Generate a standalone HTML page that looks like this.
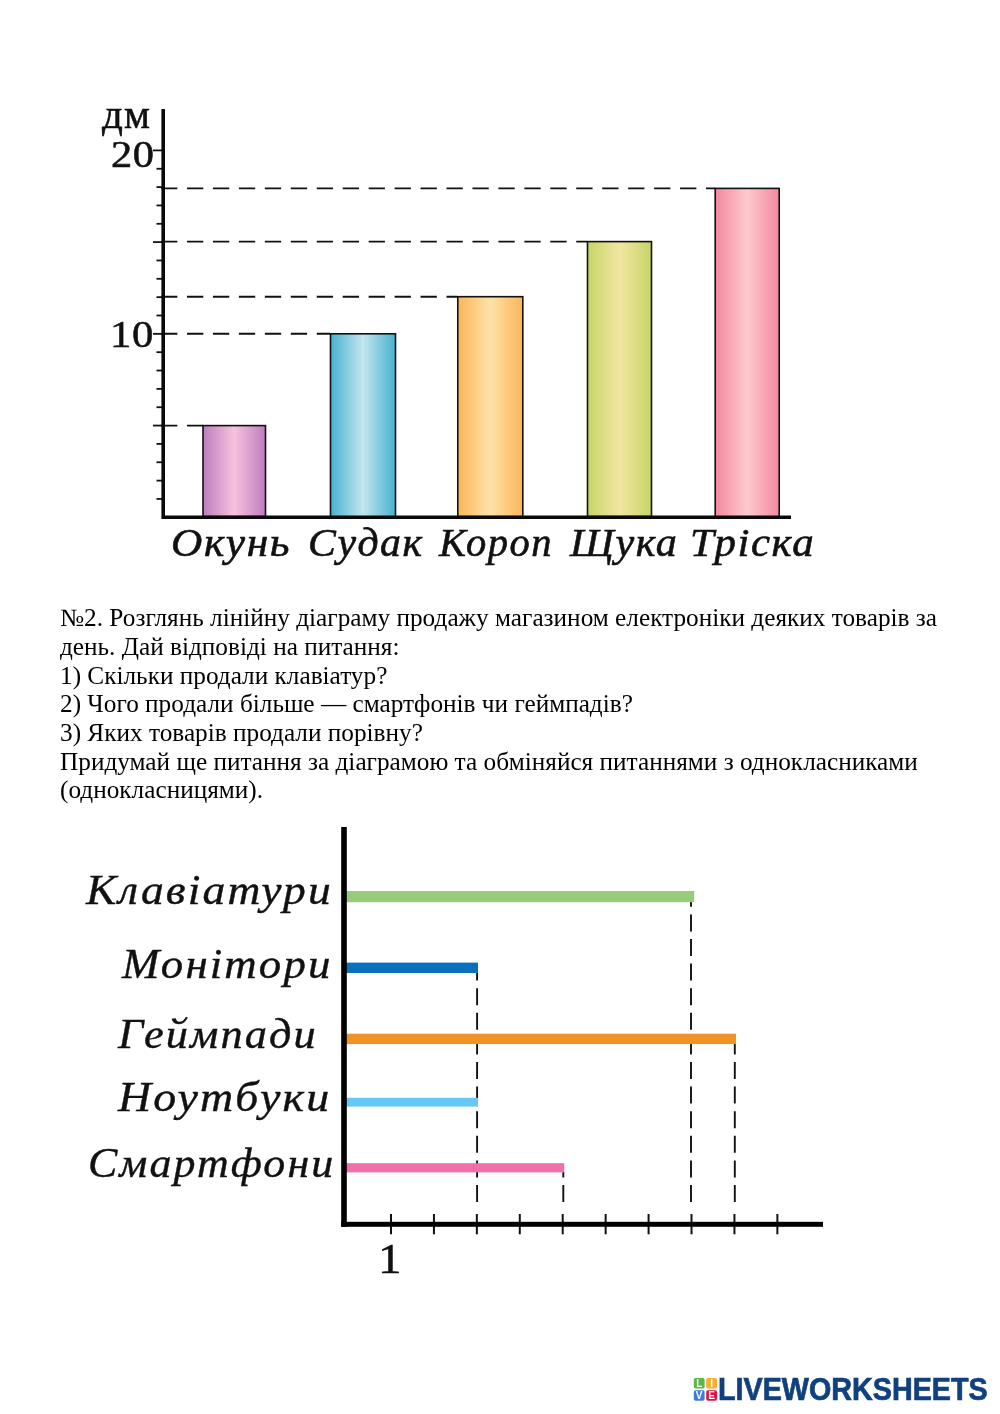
<!DOCTYPE html>
<html lang="uk">
<head>
<meta charset="utf-8">
<title>Діаграми</title>
<style>
html,body{margin:0;padding:0;background:#fff;}
body{width:1000px;height:1414px;position:relative;overflow:hidden;font-family:"Liberation Serif",serif;color:#000;}
#gfx{position:absolute;left:0;top:0;}
.t{position:absolute;white-space:nowrap;line-height:1;margin:0;transform-origin:0 0;}
#para{position:absolute;left:60px;top:603.3px;width:930px;font-size:25.28px;line-height:28.67px;color:#000;}
#para div{white-space:nowrap;}
.c1{font-family:"Liberation Serif",serif;-webkit-text-stroke:0.55px #111;color:#111;}
.c1i{font-family:"Liberation Serif",serif;font-style:italic;-webkit-text-stroke:0.6px #111;color:#111;}
.c2i{font-family:"Liberation Serif",serif;font-style:italic;-webkit-text-stroke:0.4px #111;color:#111;}
.c2{font-family:"Liberation Serif",serif;color:#111;-webkit-text-stroke:0.5px #111;}
.lwc{font-family:"Liberation Sans",sans-serif;font-weight:bold;color:#10407e;-webkit-text-stroke:0.7px #10407e;}
</style>
</head>
<body>
<svg id="gfx" width="1000" height="1414" viewBox="0 0 1000 1414">
<defs>
<linearGradient id="gp" x1="0" x2="1" y1="0" y2="0"><stop offset="0" stop-color="#bd7cc0"/><stop offset="0.5" stop-color="#f8c2dc"/><stop offset="1" stop-color="#bd7cc0"/></linearGradient>
<linearGradient id="gb" x1="0" x2="1" y1="0" y2="0"><stop offset="0" stop-color="#48b2d0"/><stop offset="0.5" stop-color="#c2e6ee"/><stop offset="1" stop-color="#48b2d0"/></linearGradient>
<linearGradient id="go" x1="0" x2="1" y1="0" y2="0"><stop offset="0" stop-color="#fcb656"/><stop offset="0.5" stop-color="#fee2aa"/><stop offset="1" stop-color="#fcb656"/></linearGradient>
<linearGradient id="gg" x1="0" x2="1" y1="0" y2="0"><stop offset="0" stop-color="#c6d466"/><stop offset="0.5" stop-color="#f2e6a2"/><stop offset="1" stop-color="#c6d466"/></linearGradient>
<linearGradient id="gr" x1="0" x2="1" y1="0" y2="0"><stop offset="0" stop-color="#f4889e"/><stop offset="0.5" stop-color="#fccace"/><stop offset="1" stop-color="#f4889e"/></linearGradient>
</defs>
<!-- chart 1 -->
<g id="chart1" stroke="#111" fill="none">
 <g stroke-width="1.9" stroke-dasharray="16.3 9.65">
  <line x1="161.05" y1="188.4" x2="715" y2="188.4"/>
  <line x1="161.05" y1="241.6" x2="587" y2="241.6"/>
  <line x1="161.05" y1="296.7" x2="457" y2="296.7"/>
  <line x1="161.05" y1="333.8" x2="330" y2="333.8"/>
  <line x1="161.05" y1="425.6" x2="203" y2="425.6"/>
 </g>
 <g stroke-width="1.6">
  <rect x="203" y="425.6" width="62.5" height="91" fill="url(#gp)"/>
  <rect x="330.5" y="333.8" width="65" height="183" fill="url(#gb)"/>
  <rect x="457.8" y="296.7" width="65" height="220" fill="url(#go)"/>
  <rect x="587.5" y="241.6" width="64" height="275" fill="url(#gg)"/>
  <rect x="715.2" y="188.4" width="64" height="328.5" fill="url(#gr)"/>
 </g>
 <g id="ticks1" stroke-width="1.8"><line x1="156.5" y1="498.95" x2="163" y2="498.95"/><line x1="156.5" y1="480.61" x2="163" y2="480.61"/><line x1="156.5" y1="462.26" x2="163" y2="462.26"/><line x1="156.5" y1="443.92" x2="163" y2="443.92"/><line x1="153" y1="425.57" x2="163" y2="425.57"/><line x1="156.5" y1="407.23" x2="163" y2="407.23"/><line x1="156.5" y1="388.88" x2="163" y2="388.88"/><line x1="156.5" y1="370.54" x2="163" y2="370.54"/><line x1="156.5" y1="352.19" x2="163" y2="352.19"/><line x1="153" y1="333.85" x2="163" y2="333.85"/><line x1="156.5" y1="315.50" x2="163" y2="315.50"/><line x1="156.5" y1="297.16" x2="163" y2="297.16"/><line x1="156.5" y1="278.81" x2="163" y2="278.81"/><line x1="156.5" y1="260.47" x2="163" y2="260.47"/><line x1="153" y1="242.12" x2="163" y2="242.12"/><line x1="156.5" y1="223.78" x2="163" y2="223.78"/><line x1="156.5" y1="205.43" x2="163" y2="205.43"/><line x1="156.5" y1="187.09" x2="163" y2="187.09"/><line x1="156.5" y1="168.75" x2="163" y2="168.75"/><line x1="153" y1="150.40" x2="163" y2="150.40"/></g>
 <path d="M163.2 109 V517.3 H791" stroke-width="3.6" stroke="#0a0a0a"/>
</g>
<!-- chart 2 -->
<g id="chart2">
 <g stroke="#111" stroke-width="1.9" stroke-dasharray="17 7.6" fill="none">
  <line x1="477.1" y1="1202" x2="477.1" y2="973"/>
  <line x1="563.3" y1="1202" x2="563.3" y2="1172"/>
  <line x1="691" y1="1202" x2="691" y2="902"/>
  <line x1="734.8" y1="1202" x2="734.8" y2="1044"/>
 </g>
 <rect x="346" y="891" width="348.2" height="11.2" fill="#98cc7a"/>
 <rect x="346" y="962.6" width="132" height="10.4" fill="#0a70bc"/>
 <rect x="346" y="1033.7" width="390" height="10.4" fill="#f09226"/>
 <rect x="346" y="1097.8" width="132" height="8.8" fill="#66c8f6"/>
 <rect x="346" y="1163.2" width="218.2" height="9.2" fill="#f06eaa"/>
 <g id="ticks2" stroke="#111" stroke-width="2"><line x1="391.00" y1="1214" x2="391.00" y2="1234.3"/><line x1="433.93" y1="1214" x2="433.93" y2="1234.3"/><line x1="476.86" y1="1214" x2="476.86" y2="1234.3"/><line x1="519.79" y1="1214" x2="519.79" y2="1234.3"/><line x1="562.72" y1="1214" x2="562.72" y2="1234.3"/><line x1="605.65" y1="1214" x2="605.65" y2="1234.3"/><line x1="648.58" y1="1214" x2="648.58" y2="1234.3"/><line x1="691.51" y1="1214" x2="691.51" y2="1234.3"/><line x1="734.44" y1="1214" x2="734.44" y2="1234.3"/><line x1="777.37" y1="1214" x2="777.37" y2="1234.3"/></g>
 <rect x="341.2" y="827" width="5.6" height="399.8" fill="#000"/>
 <rect x="341.2" y="1221.8" width="481.8" height="5" fill="#000"/>
</g>
<!-- logo -->
<g id="logo">
 <rect x="693.8" y="1378" width="10.8" height="10.5" rx="1.8" fill="#5ab848"/>
 <rect x="706.2" y="1378" width="10.8" height="10.5" rx="1.8" fill="#f8ae2e"/>
 <rect x="693.8" y="1390.2" width="10.8" height="10.5" rx="1.8" fill="#3f7cd8"/>
 <rect x="706.2" y="1390.2" width="10.8" height="10.5" rx="1.8" fill="#e01442"/>
 <g font-family="Liberation Sans, sans-serif" font-weight="bold" font-size="10" fill="#fff" text-anchor="middle">
  <text x="699.4" y="1386.9">L</text><text x="711.6" y="1386.9">I</text><text x="699.2" y="1399.1">V</text><text x="711.6" y="1399.1">E</text>
 </g>
</g>
</svg>


<div id="para">
<div>№2. Розглянь лінійну діаграму продажу магазином електроніки деяких товарів за</div>
<div>день. Дай відповіді на питання:</div>
<div>1) Скільки продали клавіатур?</div>
<div>2) Чого продали більше — смартфонів чи геймпадів?</div>
<div>3) Яких товарів продали порівну?</div>
<div>Придумай ще питання за діаграмою та обміняйся питаннями з однокласниками</div>
<div>(однокласницями).</div>
</div>


<span class="t c1" id="t_dm" style="left:102.00px;top:94.50px;font-size:40.00px;letter-spacing:1.00px;transform:scaleX(1.0267);">дм</span>
<span class="t c1" id="t_20" style="left:110.63px;top:135.36px;font-size:38.50px;letter-spacing:0.50px;transform:scaleX(1.1015);">20</span>
<span class="t c1" id="t_10" style="left:109.67px;top:315.36px;font-size:38.50px;letter-spacing:0.50px;transform:scaleX(1.1097);">10</span>
<span class="t c1i" id="t_ok" style="left:170.83px;top:523.00px;font-size:40.00px;letter-spacing:1.50px;transform:scaleX(1.0841);">Окунь</span>
<span class="t c1i" id="t_su" style="left:307.74px;top:523.00px;font-size:40.00px;letter-spacing:1.50px;transform:scaleX(1.0443);">Судак</span>
<span class="t c1i" id="t_ko" style="left:439.01px;top:523.00px;font-size:40.00px;letter-spacing:1.50px;transform:scaleX(1.0127);">Короп</span>
<span class="t c1i" id="t_sh" style="left:570.05px;top:523.00px;font-size:40.00px;letter-spacing:1.50px;transform:scaleX(1.0511);">Щука</span>
<span class="t c1i" id="t_tr" style="left:689.62px;top:523.00px;font-size:40.00px;letter-spacing:1.50px;transform:scaleX(1.0715);">Тріска</span>
<span class="t c2i" id="t_kl" style="left:86.46px;top:869.01px;font-size:42.50px;letter-spacing:2.00px;transform:scaleX(1.0711);">Клавіатури</span>
<span class="t c2i" id="t_mo" style="left:122.06px;top:942.81px;font-size:42.50px;letter-spacing:2.00px;transform:scaleX(1.0558);">Монітори</span>
<span class="t c2i" id="t_ge" style="left:117.74px;top:1012.61px;font-size:42.50px;letter-spacing:2.00px;transform:scaleX(1.0434);">Геймпади</span>
<span class="t c2i" id="t_no" style="left:117.77px;top:1076.21px;font-size:42.50px;letter-spacing:2.00px;transform:scaleX(1.0800);">Ноутбуки</span>
<span class="t c2i" id="t_sm" style="left:87.63px;top:1141.81px;font-size:42.50px;letter-spacing:2.00px;transform:scaleX(1.0333);">Смартфони</span>
<span class="t c2" id="t_1" style="left:378.13px;top:1237.19px;font-size:43.00px;letter-spacing:0.00px;transform:scaleX(1.0943);">1</span>
<span class="t lwc" id="t_lw" style="left:718.20px;top:1373.89px;font-size:31.20px;letter-spacing:0.00px;transform:scaleX(0.9209);">LIVEWORKSHEETS</span>

</body>
</html>
